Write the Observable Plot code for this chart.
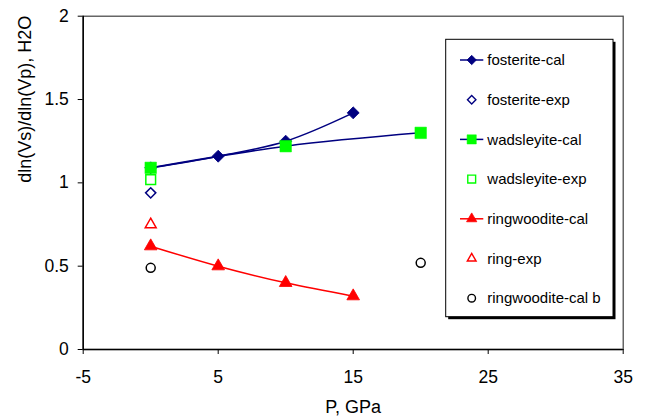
<!DOCTYPE html>
<html>
<head>
<meta charset="utf-8">
<script src="https://cdn.jsdelivr.net/npm/d3@7"></script>
<script src="https://cdn.jsdelivr.net/npm/@observablehq/plot@0.6"></script>
<style>
  html, body { margin: 0; padding: 0; background: white; }
  svg { display: block; }
</style>
</head>
<body>
<div id="chart"></div>
<script>
// ---- data ----
const foCalP = [0, 5, 10, 15];
const foCalV = [1.09, 1.16, 1.25, 1.42];
const foExpP = [0];
const foExpV = [0.94];
const wadCalP = [0, 10, 20];
const wadCalV = [1.09, 1.22, 1.30];
const wadExpP = [0];
const wadExpV = [1.02];
const ringCalP = [0, 5, 10, 15];
const ringCalV = [0.62, 0.50, 0.40, 0.32];
const ringExpP = [0];
const ringExpV = [0.75];
const ringCalBP = [0, 20];
const ringCalBV = [0.49, 0.52];

const xTicks = [-5, 5, 15, 25, 35];
const yTicks = [0, 0.5, 1, 1.5, 2];
const xLabel = "P, GPa";
const yLabel = "dln(Vs)/dln(Vp), H2O";
const seriesNames = ["fosterite-cal", "fosterite-exp", "wadsleyite-cal", "wadsleyite-exp",
                     "ringwoodite-cal", "ring-exp", "ringwoodite-cal b"];

const NAVY = "#000080", GREEN = "#00ff00", RED = "#ff0000";
const pts = (xs, ys) => xs.map((x, i) => ({x, y: ys[i]}));

const font = "'Liberation Sans', Arial, sans-serif";

const chart = Plot.plot({
  width: 645,
  height: 417,
  marginLeft: 82.7,
  marginRight: 22.3,
  marginTop: 15.7,
  marginBottom: 68,
  style: {fontFamily: font, fontSize: "17.5px", background: "white", color: "black", overflow: "visible"},
  x: {domain: [-5, 35]},
  y: {domain: [0, 2]},
  marks: [
    Plot.frame({stroke: "#404040", strokeWidth: 1.2}),
    Plot.ruleY([0], {stroke: "black", strokeWidth: 1.5}),
    Plot.ruleX([-5], {stroke: "black", strokeWidth: 1.5}),
    Plot.axisX(xTicks, {tickSize: 5, tickPadding: 16, tickFormat: d => String(d), label: null, stroke: "black", fontSize: 17.5}),
    Plot.axisY(yTicks, {tickSize: 5, tickPadding: 9.4, tickFormat: d => String(d), label: null, stroke: "black", fontSize: 17.5}),
    Plot.text([xLabel], {frameAnchor: "bottom", dy: 58, lineAnchor: "middle", fontSize: 18, fill: "black"}),
    Plot.text([yLabel], {frameAnchor: "left", dx: -57.5, rotate: -90, lineAnchor: "middle", fontSize: 18, fill: "black"}),
    // fosterite-cal
    Plot.line(pts(foCalP, foCalV), {x: "x", y: "y", stroke: NAVY, strokeWidth: 1.5, curve: "catmull-rom"}),
    Plot.dot(pts(foCalP, foCalV), {x: "x", y: "y", symbol: "diamond2", r: 5.4, fill: NAVY, stroke: NAVY, strokeWidth: 0.8}),
    // fosterite-exp
    Plot.dot(pts(foExpP, foExpV), {x: "x", y: "y", symbol: "diamond2", r: 4.6, fill: "white", stroke: NAVY, strokeWidth: 1.5}),
    // wadsleyite-cal
    Plot.line(pts(wadCalP, wadCalV), {x: "x", y: "y", stroke: NAVY, strokeWidth: 1.5, curve: "catmull-rom"}),
    Plot.dot(pts(wadCalP, wadCalV), {x: "x", y: "y", symbol: "square", r: 6.5, fill: GREEN, stroke: GREEN, strokeWidth: 0.5}),
    // wadsleyite-exp
    Plot.dot(pts(wadExpP, wadExpV), {x: "x", y: "y", symbol: "square2", r: 6.2, fill: "white", stroke: GREEN, strokeWidth: 1.5}),
    // ringwoodite-cal
    Plot.line(pts(ringCalP, ringCalV), {x: "x", y: "y", stroke: RED, strokeWidth: 1.5, curve: "catmull-rom"}),
    Plot.dot(pts(ringCalP, ringCalV), {x: "x", y: "y", symbol: "triangle", r: 4.7, fill: RED, stroke: RED, strokeWidth: 0.8}),
    // ring-exp
    Plot.dot(pts(ringExpP, ringExpV), {x: "x", y: "y", symbol: "triangle2", r: 5.2, fill: "white", stroke: RED, strokeWidth: 1.5}),
    // ringwoodite-cal b
    Plot.dot(pts(ringCalBP, ringCalBV), {x: "x", y: "y", symbol: "circle", r: 4.5, fill: "white", stroke: "black", strokeWidth: 1.5})
  ]
});

document.getElementById("chart").appendChild(chart);

// ---- legend (drawn inside the SVG) ----
const svg = d3.select(chart.tagName.toLowerCase() === "svg" ? chart : chart.querySelector("svg"));
const lg = svg.append("g").attr("class", "legend").attr("text-anchor", "start");
const bx = 445.7, by = 39.3, bw = 613 - 445.7, bh = 316.7 - 39.3;
lg.append("rect").attr("x", bx + 2.5).attr("y", by + 2.5).attr("width", bw).attr("height", bh).attr("fill", "black");
lg.append("rect").attr("x", bx).attr("y", by).attr("width", bw).attr("height", bh)
  .attr("fill", "white").attr("stroke", "black").attr("stroke-width", 1);

const legendItems = [
  {name: seriesNames[0], line: NAVY, sym: d3.symbolDiamond2, r: 4.2, fill: NAVY, stroke: NAVY, sw: 0.8},
  {name: seriesNames[1], line: null, sym: d3.symbolDiamond2, r: 3.8, fill: "white", stroke: NAVY, sw: 1.4},
  {name: seriesNames[2], line: NAVY, sym: d3.symbolSquare, r: 5.2, fill: GREEN, stroke: GREEN, sw: 0.5},
  {name: seriesNames[3], line: null, sym: d3.symbolSquare2, r: 5.0, fill: "white", stroke: GREEN, sw: 1.4},
  {name: seriesNames[4], line: RED, sym: d3.symbolTriangle, r: 3.8, fill: RED, stroke: RED, sw: 0.8},
  {name: seriesNames[5], line: null, sym: d3.symbolTriangle2, r: 4.2, fill: "white", stroke: RED, sw: 1.4},
  {name: seriesNames[6], line: null, sym: d3.symbolCircle, r: 3.8, fill: "white", stroke: "black", sw: 1.4}
];
const row0 = 60, rowStep = 39.7;
legendItems.forEach((it, i) => {
  const cy = row0 + i * rowStep;
  if (it.line) {
    lg.append("line").attr("x1", 460).attr("x2", 483.3).attr("y1", cy).attr("y2", cy)
      .attr("stroke", it.line).attr("stroke-width", 1.5);
  }
  lg.append("path")
    .attr("d", d3.symbol(it.sym, Math.PI * it.r * it.r)())
    .attr("transform", `translate(471.7,${cy})`)
    .attr("fill", it.fill).attr("stroke", it.stroke).attr("stroke-width", it.sw);
  lg.append("text").attr("x", 487.3).attr("y", cy + 5.2)
    .attr("text-anchor", "start")
    .attr("font-family", font).attr("font-size", 15).attr("fill", "black")
    .text(it.name);
});
</script>
</body>
</html>
